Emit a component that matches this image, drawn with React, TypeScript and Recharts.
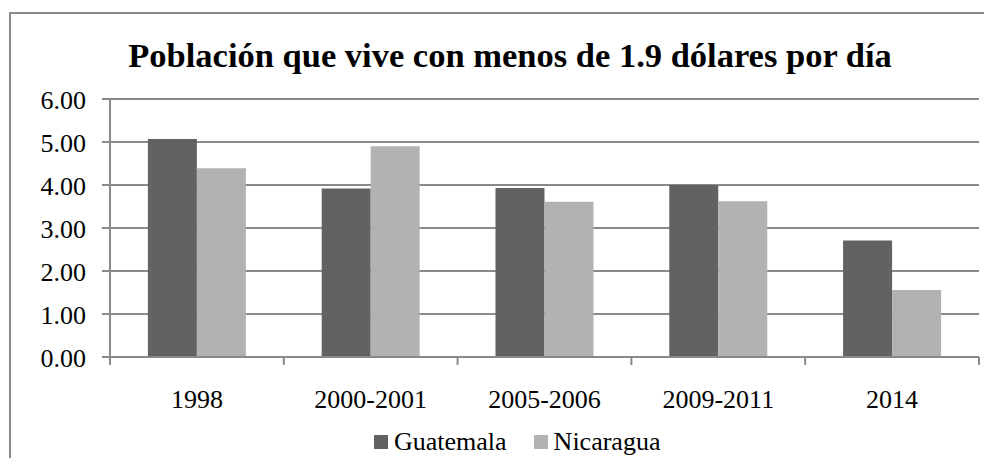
import React from 'react';
import { BarChart, Bar, XAxis, YAxis, CartesianGrid, Legend } from 'recharts';

const categories = ['1998', '2000-2001', '2005-2006', '2009-2011', '2014'];
const guatemala = [5.07, 3.92, 3.93, 4.0, 2.71];
const nicaragua = [4.39, 4.9, 3.61, 3.62, 1.56];
const yTicks = [0, 1, 2, 3, 4, 5, 6];
const seriesNames = ['Guatemala', 'Nicaragua'];
const seriesColors = ['#626262', '#b2b2b2'];
const title = 'Población que vive con menos de 1.9 dólares por día';

const data = categories.map((c, i) => ({
  name: c,
  Guatemala: guatemala[i],
  Nicaragua: nicaragua[i],
}));

const FONT = '"Liberation Serif", "Times New Roman", serif';
const GRAY = '#8a8a8a';
const CHART_W = 976;
const CHART_H = 450;
const MARGIN = { top: 91, right: 5, bottom: 41, left: 42 };
const Y_W = 60;
const PLOT_W = CHART_W - MARGIN.left - MARGIN.right - Y_W;

const XTick = (props: any) => {
  const { x, y, payload, index } = props;
  const half = payload && typeof payload.offset === 'number' && payload.offset > 0
    ? payload.offset
    : PLOT_W / categories.length / 2;
  const axisY = y - 8;
  return (
    <g>
      <line x1={x - half} x2={x - half} y1={axisY} y2={axisY + 8} stroke={GRAY} strokeWidth={2} />
      {index === categories.length - 1 && (
        <line x1={x + half} x2={x + half} y1={axisY} y2={axisY + 8} stroke={GRAY} strokeWidth={2} />
      )}
      <text x={x} y={axisY + 51.3} textAnchor="middle" fontFamily={FONT} fontSize={26} fill="#000">
        {payload.value}
      </text>
    </g>
  );
};

const YTick = (props: any) => {
  const { x, y, payload } = props;
  return (
    <text x={x} y={y} dy={10} textAnchor="end" fontFamily={FONT} fontSize={26} fill="#000">
      {Number(payload.value).toFixed(2)}
    </text>
  );
};

const LegendContent = () => (
  <div style={{ display: 'flex', alignItems: 'center', height: 30, fontFamily: FONT, fontSize: 26, lineHeight: '30px', color: '#000', whiteSpace: 'nowrap' }}>
    {seriesNames.map((n, i) => (
      <div key={n} style={{ display: 'flex', alignItems: 'center', marginRight: i === 0 ? 27 : 0 }}>
        <span style={{ display: 'inline-block', width: 14, height: 14, background: seriesColors[i], marginRight: 6 }} />
        <span>{n}</span>
      </div>
    ))}
  </div>
);

export default function App() {
  return (
    <div style={{ position: 'relative', width: CHART_W, height: CHART_H, overflow: 'hidden', background: '#fff' }}>
      <div style={{ position: 'absolute', left: 1, top: 4, width: 1100, height: 600, border: `2px solid ${GRAY}`, boxSizing: 'border-box' }} />
      <div style={{ position: 'absolute', left: 502, top: 27.4, transform: 'translateX(-50%)', whiteSpace: 'nowrap', fontFamily: FONT, fontWeight: 'bold', fontSize: 34.5, lineHeight: '40px', color: '#000' }}>
        {title}
      </div>
      <BarChart width={CHART_W} height={CHART_H} data={data} margin={MARGIN} barCategoryGap="21.8%" barGap={0}>
        <CartesianGrid vertical={false} stroke={GRAY} strokeWidth={2} />
        <XAxis
          dataKey="name"
          interval={0}
          axisLine={{ stroke: GRAY, strokeWidth: 2 }}
          tickLine={false}
          tickSize={8}
          tickMargin={0}
          height={60}
          tick={<XTick />}
        />
        <YAxis
          domain={[0, 6]}
          ticks={yTicks}
          width={Y_W}
          axisLine={{ stroke: GRAY, strokeWidth: 2 }}
          tickLine={{ stroke: GRAY, strokeWidth: 2 }}
          tickSize={8}
          tickMargin={16}
          tick={<YTick />}
        />
        <Legend
          layout="horizontal"
          verticalAlign="middle"
          align="center"
          wrapperStyle={{ top: 419, left: 366, width: 320, height: 30 }}
          content={<LegendContent />}
        />
        <Bar dataKey="Guatemala" fill={seriesColors[0]} isAnimationActive={false} />
        <Bar dataKey="Nicaragua" fill={seriesColors[1]} isAnimationActive={false} />
      </BarChart>
    </div>
  );
}
